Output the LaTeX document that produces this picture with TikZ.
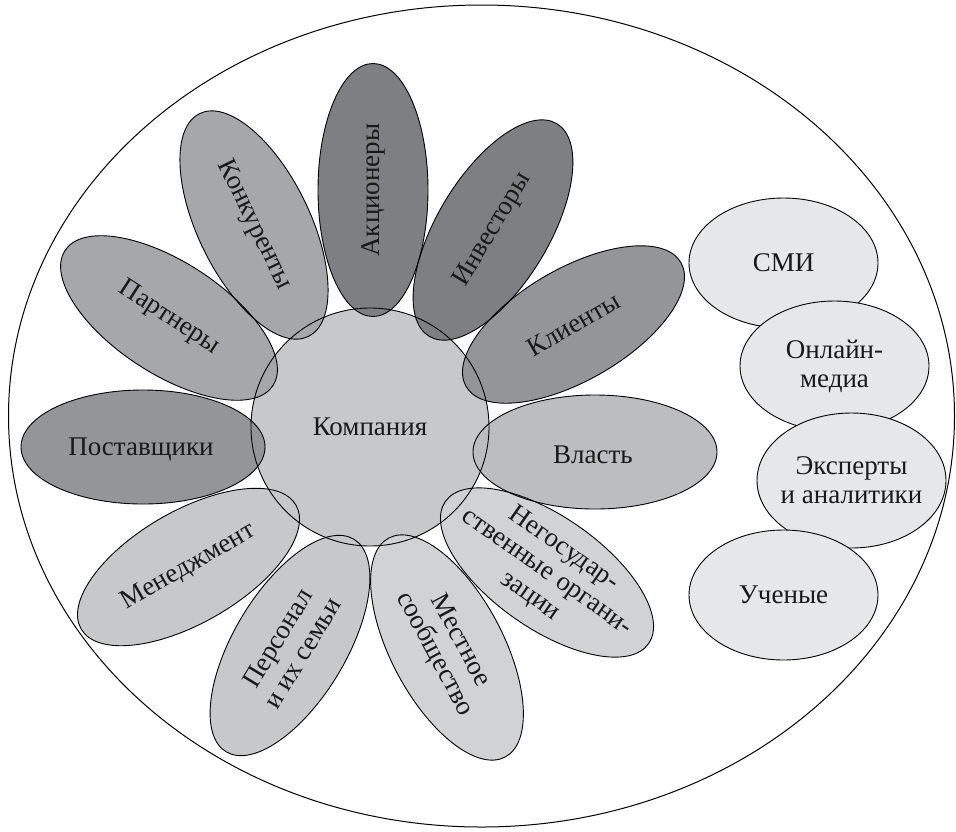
\documentclass[tikz,border=0pt]{standalone}
\usepackage{fontspec}
\setmainfont{Liberation Serif}
\usetikzlibrary{shapes.geometric}
\definecolor{cdark}{HTML}{7E7F82}
\definecolor{cmid}{HTML}{949598}
\definecolor{cmidl}{HTML}{A6A7AA}
\definecolor{clight}{HTML}{BCBDC0}
\definecolor{cpale}{HTML}{C7C8CA}
\definecolor{cpaler}{HTML}{D1D2D4}
\definecolor{cside}{HTML}{E6E7E8}
\tikzset{
  petalshape/.style={ellipse, minimum width=248pt, minimum height=112pt, inner sep=0pt, outer sep=0pt},
  petalline/.style={petalshape, draw=black, line width=0.9pt},
  lbl/.style={font=\fontsize{27}{29}\selectfont, align=center, inner sep=0pt, text=black!90},
  sidebox/.style={ellipse, draw=black, line width=0.9pt, fill=cside, minimum width=189pt, minimum height=130pt, inner sep=0pt},
}
\begin{document}
\begin{tikzpicture}[x=1pt,y=-1pt]
\useasboundingbox (0,0) rectangle (956,831);
\node[ellipse, draw=black, line width=1pt, minimum width=946pt, minimum height=822pt, inner sep=0pt] (outer) at (481.5,416) {};

% fills
\node[circle, fill=cpale, minimum size=238pt, inner sep=0pt] (center) at (370,427) {};
\node[petalshape, fill=cdark, minimum width=253pt, minimum height=110pt, rotate=90] (p1) at (373,190) {};
\node[petalshape, fill=cdark, rotate=59] (p2) at (493,230) {};
\node[petalshape, fill=cmid, rotate=30] (p3) at (573.5,324.5) {};
\node[petalshape, fill=clight, minimum width=244pt, minimum height=114pt] (p4) at (595,452) {};
\node[petalshape, fill=cpaler, rotate=-35] (p5) at (547,572.5) {};
\node[petalshape, fill=cpaler, rotate=-62] (p6) at (447,647.5) {};
\node[petalshape, fill=cpale, rotate=59] (p7) at (290,645.5) {};
\node[petalshape, fill=cpale, rotate=30] (p8) at (188.5,567) {};
\node[petalshape, fill=cmid, minimum width=244pt, minimum height=114pt] (p9) at (143,447) {};
\node[petalshape, fill=cmidl, rotate=-33] (p10) at (169,318) {};
\node[petalshape, fill=cmidl, rotate=-64] (p11) at (254,225) {};

% outlines
\node[circle, draw=black, line width=0.9pt, minimum size=238pt, inner sep=0pt] (centerline) at (center) {};
\node[petalline, minimum width=253pt, minimum height=110pt, rotate=90] (p1o) at (p1) {};
\node[petalline, rotate=59] (p2o) at (p2) {};
\node[petalline, rotate=30] (p3o) at (p3) {};
\node[petalline, minimum width=244pt, minimum height=114pt] (p4o) at (p4) {};
\node[petalline, rotate=-35] (p5o) at (p5) {};
\node[petalline, rotate=-62] (p6o) at (p6) {};
\node[petalline, rotate=59] (p7o) at (p7) {};
\node[petalline, rotate=30] (p8o) at (p8) {};
\node[petalline, minimum width=244pt, minimum height=114pt] (p9o) at (p9) {};
\node[petalline, rotate=-33] (p10o) at (p10) {};
\node[petalline, rotate=-64] (p11o) at (p11) {};

% labels
\node[lbl] (ct) at (370,427) {Компания};
\node[lbl, rotate=90] (p1t) at (p1) {Акционеры};
\node[lbl, rotate=59] (p2t) at (p2) {Инвесторы};
\node[lbl, rotate=30] (p3t) at (p3) {Клиенты};
\node[lbl] (p4t) at (593,455) {Власть};
\node[lbl, rotate=-35] (p5t) at (p5) {Негосудар-\\ственные органи-\\зации};
\node[lbl, rotate=-62] (p6t) at (p6) {Местное\\сообщество};
\node[lbl, rotate=59] (p7t) at (p7) {Персонал\\и их семьи};
\node[lbl, rotate=30] (p8t) at (p8) {Менеджмент};
\node[lbl] (p9t) at (141,449) {Поставщики};
\node[lbl, rotate=-33] (p10t) at (p10) {Партнеры};
\node[lbl, rotate=-64] (p11t) at (p11) {Конкуренты};

% side group
\node[sidebox] (s1) at (783.5,263) {};
\node[lbl] (s1t) at (s1) {СМИ};
\node[sidebox] (s2) at (834.5,366) {};
\node[lbl] (s2t) at (s2) {Онлайн-\\медиа};
\node[sidebox, minimum height=135pt] (s3) at (851.5,480.5) {};
\node[lbl] (s3t) at (s3) {Эксперты\\и аналитики};
\node[sidebox] (s4) at (783.5,595) {};
\node[lbl] (s4t) at (s4) {Ученые};
\end{tikzpicture}
\end{document}
